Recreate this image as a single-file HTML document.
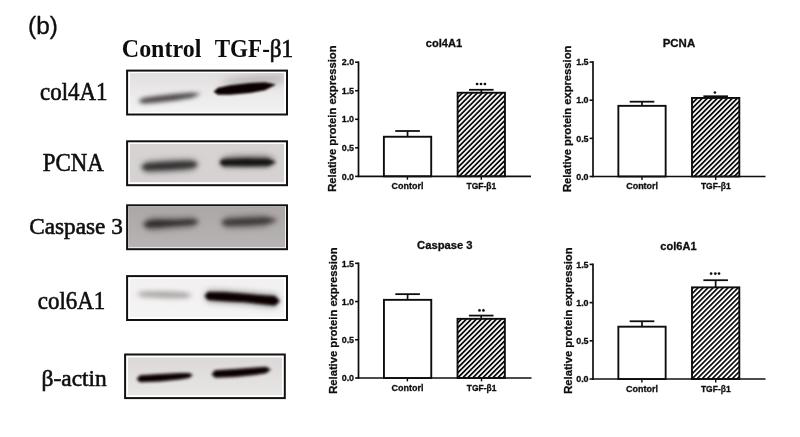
<!DOCTYPE html>
<html><head><meta charset="utf-8"><style>
html,body{margin:0;padding:0;background:#fff;width:800px;height:437px;overflow:hidden}
svg{display:block}
.ch text{stroke:#111;stroke-width:0.3px}
</style></head><body>
<svg width="800" height="437" viewBox="0 0 800 437">
<defs>
<pattern id="hatch" width="3.54" height="10" patternUnits="userSpaceOnUse" patternTransform="translate(457,92) rotate(45)"><rect x="0" y="0" width="1.75" height="10" fill="#111"/></pattern>
<filter id="b08" filterUnits="userSpaceOnUse" x="0" y="0" width="800" height="437"><feGaussianBlur stdDeviation="0.8"/></filter>
<filter id="b1" filterUnits="userSpaceOnUse" x="0" y="0" width="800" height="437"><feGaussianBlur stdDeviation="1.2"/></filter>
<filter id="b15" filterUnits="userSpaceOnUse" x="0" y="0" width="800" height="437"><feGaussianBlur stdDeviation="1.6"/></filter>
<filter id="b2" filterUnits="userSpaceOnUse" x="0" y="0" width="800" height="437"><feGaussianBlur stdDeviation="2.1"/></filter>
<filter id="b25" filterUnits="userSpaceOnUse" x="0" y="0" width="800" height="437"><feGaussianBlur stdDeviation="2.5"/></filter>
<filter id="b3" filterUnits="userSpaceOnUse" x="0" y="0" width="800" height="437"><feGaussianBlur stdDeviation="3.0"/></filter>
<filter id="b4" filterUnits="userSpaceOnUse" x="0" y="0" width="800" height="437"><feGaussianBlur stdDeviation="4.5"/></filter>
<filter id="tb" filterUnits="userSpaceOnUse" x="0" y="0" width="800" height="437"><feGaussianBlur stdDeviation="0.3"/></filter>
</defs>
<g class="ch" filter="url(#tb)">
<g><line x1="407.55" y1="131.0" x2="407.55" y2="136.8" stroke="#111" stroke-width="1.7"/><line x1="395.25" y1="131.0" x2="419.85" y2="131.0" stroke="#111" stroke-width="1.8"/><rect x="383.90" y="136.75" width="47.30" height="39.60" fill="#fff" stroke="#111" stroke-width="1.9"/><line x1="481.3" y1="89.8" x2="481.3" y2="92.8" stroke="#111" stroke-width="1.7"/><line x1="469.0" y1="89.8" x2="493.6" y2="89.8" stroke="#111" stroke-width="1.8"/><rect x="457.65" y="92.75" width="47.30" height="83.60" fill="url(#hatch)" stroke="#111" stroke-width="1.9"/><line x1="407.4" y1="176.35" x2="407.4" y2="179.75" stroke="#111" stroke-width="1.4"/><line x1="481.3" y1="176.35" x2="481.3" y2="179.75" stroke="#111" stroke-width="1.4"/><line x1="358.5" y1="61.400000000000006" x2="358.5" y2="177.15" stroke="#111" stroke-width="1.7"/><line x1="357.7" y1="176.35" x2="531" y2="176.35" stroke="#111" stroke-width="1.7"/><circle cx="477.1" cy="84" r="1.35" fill="#111"/><circle cx="481" cy="84" r="1.35" fill="#111"/><circle cx="484.9" cy="84" r="1.35" fill="#111"/></g>
<line x1="355.1" y1="176.35" x2="358.5" y2="176.35" stroke="#111" stroke-width="1.6"/>
<text transform="translate(341.69,179.55) scale(0.9769,1)" font-family="Liberation Sans" font-weight="bold" font-size="9.14" fill="#111" >0.0</text>
<line x1="355.1" y1="147.81" x2="358.5" y2="147.81" stroke="#111" stroke-width="1.6"/>
<text transform="translate(341.69,151.01) scale(0.9769,1)" font-family="Liberation Sans" font-weight="bold" font-size="9.14" fill="#111" >0.5</text>
<line x1="355.1" y1="119.28" x2="358.5" y2="119.28" stroke="#111" stroke-width="1.6"/>
<text transform="translate(341.69,122.48) scale(0.9769,1)" font-family="Liberation Sans" font-weight="bold" font-size="9.14" fill="#111" >1.0</text>
<line x1="355.1" y1="90.74" x2="358.5" y2="90.74" stroke="#111" stroke-width="1.6"/>
<text transform="translate(341.69,93.94) scale(0.9769,1)" font-family="Liberation Sans" font-weight="bold" font-size="9.14" fill="#111" >1.5</text>
<line x1="355.1" y1="62.20" x2="358.5" y2="62.20" stroke="#111" stroke-width="1.6"/>
<text transform="translate(341.78,65.40) scale(0.9695,1)" font-family="Liberation Sans" font-weight="bold" font-size="9.14" fill="#111" >2.0</text>
<text transform="translate(391.59,188.70) scale(1.0246,1)" font-family="Liberation Sans" font-weight="bold" font-size="8.77" fill="#111" >Contorl</text>
<text transform="translate(466.52,188.70) scale(0.9692,1)" font-family="Liberation Sans" font-weight="bold" font-size="8.77" fill="#111" >TGF-β1</text>
<text transform="translate(425.76,47.00) scale(1.0795,1)" font-family="Liberation Sans" font-weight="bold" font-size="10.27" fill="#111" >col4A1</text>
<text transform="translate(336.4,191.78) rotate(-90)" font-family="Liberation Sans" font-size="11.21" font-weight="bold" fill="#111">Relative protein expression</text>
<g><line x1="642" y1="101.7" x2="642" y2="105.9" stroke="#111" stroke-width="1.7"/><line x1="629.7" y1="101.7" x2="654.3" y2="101.7" stroke="#111" stroke-width="1.8"/><rect x="618.35" y="105.85" width="47.30" height="70.65" fill="#fff" stroke="#111" stroke-width="1.9"/><line x1="715.65" y1="96.25" x2="715.65" y2="98.0" stroke="#111" stroke-width="1.7"/><line x1="703.35" y1="96.25" x2="727.9499999999999" y2="96.25" stroke="#111" stroke-width="1.8"/><rect x="692.00" y="97.95" width="47.30" height="78.55" fill="url(#hatch)" stroke="#111" stroke-width="1.9"/><line x1="642" y1="176.5" x2="642" y2="179.9" stroke="#111" stroke-width="1.4"/><line x1="715.7" y1="176.5" x2="715.7" y2="179.9" stroke="#111" stroke-width="1.4"/><line x1="593" y1="61.260000000000005" x2="593" y2="177.3" stroke="#111" stroke-width="1.7"/><line x1="592.2" y1="176.5" x2="765.5" y2="176.5" stroke="#111" stroke-width="1.7"/><circle cx="714.9" cy="92.5" r="1.35" fill="#111"/></g>
<line x1="589.6" y1="176.50" x2="593" y2="176.50" stroke="#111" stroke-width="1.6"/>
<text transform="translate(576.19,179.70) scale(0.9769,1)" font-family="Liberation Sans" font-weight="bold" font-size="9.14" fill="#111" >0.0</text>
<line x1="589.6" y1="138.35" x2="593" y2="138.35" stroke="#111" stroke-width="1.6"/>
<text transform="translate(576.19,141.55) scale(0.9769,1)" font-family="Liberation Sans" font-weight="bold" font-size="9.14" fill="#111" >0.5</text>
<line x1="589.6" y1="100.21" x2="593" y2="100.21" stroke="#111" stroke-width="1.6"/>
<text transform="translate(576.19,103.41) scale(0.9769,1)" font-family="Liberation Sans" font-weight="bold" font-size="9.14" fill="#111" >1.0</text>
<line x1="589.6" y1="62.06" x2="593" y2="62.06" stroke="#111" stroke-width="1.6"/>
<text transform="translate(576.19,65.26) scale(0.9769,1)" font-family="Liberation Sans" font-weight="bold" font-size="9.14" fill="#111" >1.5</text>
<text transform="translate(626.19,188.70) scale(1.0246,1)" font-family="Liberation Sans" font-weight="bold" font-size="8.77" fill="#111" >Contorl</text>
<text transform="translate(700.92,188.70) scale(0.9692,1)" font-family="Liberation Sans" font-weight="bold" font-size="8.77" fill="#111" >TGF-β1</text>
<text transform="translate(662.70,47.00) scale(1.0289,1)" font-family="Liberation Sans" font-weight="bold" font-size="11.14" fill="#111" >PCNA</text>
<text transform="translate(571.4,191.98) rotate(-90)" font-family="Liberation Sans" font-size="11.21" font-weight="bold" fill="#111">Relative protein expression</text>
<g><line x1="407.6" y1="294.15" x2="407.6" y2="299.9" stroke="#111" stroke-width="1.7"/><line x1="395.3" y1="294.15" x2="419.90000000000003" y2="294.15" stroke="#111" stroke-width="1.8"/><rect x="383.95" y="299.85" width="47.30" height="78.15" fill="#fff" stroke="#111" stroke-width="1.9"/><line x1="481.2" y1="315.6" x2="481.2" y2="318.9" stroke="#111" stroke-width="1.7"/><line x1="468.9" y1="315.6" x2="493.5" y2="315.6" stroke="#111" stroke-width="1.8"/><rect x="457.55" y="318.85" width="47.30" height="59.15" fill="url(#hatch)" stroke="#111" stroke-width="1.9"/><line x1="407.4" y1="378.0" x2="407.4" y2="381.4" stroke="#111" stroke-width="1.4"/><line x1="481.5" y1="378.0" x2="481.5" y2="381.4" stroke="#111" stroke-width="1.4"/><line x1="358.5" y1="262.5" x2="358.5" y2="378.8" stroke="#111" stroke-width="1.7"/><line x1="357.7" y1="378.0" x2="531.5" y2="378.0" stroke="#111" stroke-width="1.7"/><circle cx="479.5" cy="310.4" r="1.35" fill="#111"/><circle cx="483.4" cy="310.4" r="1.35" fill="#111"/></g>
<line x1="355.1" y1="378.00" x2="358.5" y2="378.00" stroke="#111" stroke-width="1.6"/>
<text transform="translate(341.69,381.20) scale(0.9769,1)" font-family="Liberation Sans" font-weight="bold" font-size="9.14" fill="#111" >0.0</text>
<line x1="355.1" y1="339.77" x2="358.5" y2="339.77" stroke="#111" stroke-width="1.6"/>
<text transform="translate(341.69,342.97) scale(0.9769,1)" font-family="Liberation Sans" font-weight="bold" font-size="9.14" fill="#111" >0.5</text>
<line x1="355.1" y1="301.53" x2="358.5" y2="301.53" stroke="#111" stroke-width="1.6"/>
<text transform="translate(341.69,304.73) scale(0.9769,1)" font-family="Liberation Sans" font-weight="bold" font-size="9.14" fill="#111" >1.0</text>
<line x1="355.1" y1="263.30" x2="358.5" y2="263.30" stroke="#111" stroke-width="1.6"/>
<text transform="translate(341.69,266.50) scale(0.9769,1)" font-family="Liberation Sans" font-weight="bold" font-size="9.14" fill="#111" >1.5</text>
<text transform="translate(391.59,391.00) scale(1.0246,1)" font-family="Liberation Sans" font-weight="bold" font-size="8.77" fill="#111" >Contorl</text>
<text transform="translate(466.72,391.00) scale(0.9692,1)" font-family="Liberation Sans" font-weight="bold" font-size="8.77" fill="#111" >TGF-β1</text>
<text transform="translate(417.05,248.50) scale(1.0493,1)" font-family="Liberation Sans" font-weight="bold" font-size="10.71" fill="#111" >Caspase 3</text>
<text transform="translate(336.7,393.78) rotate(-90)" font-family="Liberation Sans" font-size="11.21" font-weight="bold" fill="#111">Relative protein expression</text>
<g><line x1="642" y1="321.25" x2="642" y2="326.75" stroke="#111" stroke-width="1.7"/><line x1="629.7" y1="321.25" x2="654.3" y2="321.25" stroke="#111" stroke-width="1.8"/><rect x="618.35" y="326.70" width="47.30" height="52.30" fill="#fff" stroke="#111" stroke-width="1.9"/><line x1="715.65" y1="280.2" x2="715.65" y2="287.4" stroke="#111" stroke-width="1.7"/><line x1="703.35" y1="280.2" x2="727.9499999999999" y2="280.2" stroke="#111" stroke-width="1.8"/><rect x="692.00" y="287.35" width="47.30" height="91.65" fill="url(#hatch)" stroke="#111" stroke-width="1.9"/><line x1="641.9" y1="379.0" x2="641.9" y2="382.4" stroke="#111" stroke-width="1.4"/><line x1="715.7" y1="379.0" x2="715.7" y2="382.4" stroke="#111" stroke-width="1.4"/><line x1="593" y1="263.59999999999997" x2="593" y2="379.8" stroke="#111" stroke-width="1.7"/><line x1="592.2" y1="379.0" x2="765.5" y2="379.0" stroke="#111" stroke-width="1.7"/><circle cx="711.1" cy="273.6" r="1.35" fill="#111"/><circle cx="715.3" cy="273.6" r="1.35" fill="#111"/><circle cx="719" cy="273.6" r="1.35" fill="#111"/></g>
<line x1="589.6" y1="379.00" x2="593" y2="379.00" stroke="#111" stroke-width="1.6"/>
<text transform="translate(576.19,382.20) scale(0.9769,1)" font-family="Liberation Sans" font-weight="bold" font-size="9.14" fill="#111" >0.0</text>
<line x1="589.6" y1="340.80" x2="593" y2="340.80" stroke="#111" stroke-width="1.6"/>
<text transform="translate(576.19,344.00) scale(0.9769,1)" font-family="Liberation Sans" font-weight="bold" font-size="9.14" fill="#111" >0.5</text>
<line x1="589.6" y1="302.60" x2="593" y2="302.60" stroke="#111" stroke-width="1.6"/>
<text transform="translate(576.19,305.80) scale(0.9769,1)" font-family="Liberation Sans" font-weight="bold" font-size="9.14" fill="#111" >1.0</text>
<line x1="589.6" y1="264.40" x2="593" y2="264.40" stroke="#111" stroke-width="1.6"/>
<text transform="translate(576.19,267.60) scale(0.9769,1)" font-family="Liberation Sans" font-weight="bold" font-size="9.14" fill="#111" >1.5</text>
<text transform="translate(626.09,391.60) scale(1.0246,1)" font-family="Liberation Sans" font-weight="bold" font-size="8.77" fill="#111" >Contorl</text>
<text transform="translate(700.92,391.60) scale(0.9692,1)" font-family="Liberation Sans" font-weight="bold" font-size="8.77" fill="#111" >TGF-β1</text>
<text transform="translate(660.36,249.80) scale(1.0593,1)" font-family="Liberation Sans" font-weight="bold" font-size="10.41" fill="#111" >col6A1</text>
<text transform="translate(571.5,393.78) rotate(-90)" font-family="Liberation Sans" font-size="11.21" font-weight="bold" fill="#111">Relative protein expression</text>
</g>
<linearGradient id="g0" x1="0" y1="0" x2="0" y2="1"><stop offset="0" stop-color="#e2dfdf"/><stop offset="1" stop-color="#f3f2f2"/></linearGradient>
<clipPath id="c0"><rect x="129.79999999999998" y="73.1" width="154.50000000000003" height="38.9"/></clipPath>
<rect x="127.1" y="70.6" width="159.9" height="43.9" fill="#fff" stroke="#111" stroke-width="2"/>
<g clip-path="url(#c0)">
<rect x="129.79999999999998" y="73.1" width="154.50000000000003" height="38.9" fill="url(#g0)"/>
<path d="M218.0,84.0 L232.0,79.0 L258.0,76.0 L280.0,75.0 L290.0,78.0 L290.0,78.0 L280.0,82.0 L258.0,85.0 L232.0,86.0 L218.0,84.0 Z" fill="#b3aeae" filter="url(#b4)"/>
<path d="M138.0,101.3 L143.0,98.0 L155.0,96.3 L175.0,94.0 L192.0,92.7 L201.0,93.8 L201.0,93.8 L192.0,97.7 L175.0,100.5 L155.0,102.8 L143.0,103.5 L138.0,101.3 Z" fill="#4a4444" filter="url(#b2)"/>
<path d="M213.5,91.8 L218.0,87.7 L230.0,85.2 L250.0,83.0 L265.0,82.2 L276.0,84.6 L276.0,84.6 L265.0,90.2 L250.0,93.0 L230.0,94.8 L218.0,94.7 L213.5,91.8 Z" fill="#080606" filter="url(#b1)"/>
</g>
<linearGradient id="g1" x1="0" y1="0" x2="0" y2="1"><stop offset="0" stop-color="#d7d3d3"/><stop offset="1" stop-color="#d6d2d2"/></linearGradient>
<clipPath id="c1"><rect x="129.79999999999998" y="144.0" width="154.50000000000003" height="38.49999999999999"/></clipPath>
<rect x="127.1" y="141.3" width="159.9" height="43.9" fill="#fff" stroke="#111" stroke-width="2"/>
<g clip-path="url(#c1)">
<rect x="129.79999999999998" y="144.0" width="154.50000000000003" height="38.49999999999999" fill="url(#g1)"/>
<path d="M222.0,158.0 L235.0,154.5 L265.0,154.5 L278.0,158.0 L278.0,158.0 L265.0,160.5 L235.0,160.5 L222.0,158.0 Z" fill="#aaa5a5" filter="url(#b3)"/>
<path d="M141.0,167.2 L146.0,161.2 L165.0,159.8 L185.0,159.0 L194.0,159.3 L198.0,164.3 L198.0,164.3 L194.0,169.8 L185.0,171.0 L165.0,172.2 L146.0,172.8 L141.0,167.2 Z" fill="#8a8585" filter="url(#b3)"/>
<path d="M141.0,167.2 L146.0,163.8 L165.0,162.2 L185.0,161.5 L194.0,161.8 L198.0,164.3 L198.0,164.3 L194.0,167.3 L185.0,168.5 L165.0,169.8 L146.0,170.2 L141.0,167.2 Z" fill="#333030" filter="url(#b2)"/>
<path d="M219.5,162.6 L223.0,157.7 L245.0,157.1 L268.0,157.3 L276.0,162.2 L276.0,162.2 L268.0,167.3 L245.0,167.6 L223.0,167.2 L219.5,162.6 Z" fill="#555050" filter="url(#b25)"/>
<path d="M219.5,162.6 L223.0,159.7 L245.0,159.1 L268.0,159.3 L276.0,162.2 L276.0,162.2 L268.0,165.3 L245.0,165.6 L223.0,165.2 L219.5,162.6 Z" fill="#181414" filter="url(#b15)"/>
</g>
<linearGradient id="g2" x1="0" y1="0" x2="0" y2="1"><stop offset="0" stop-color="#aca7a7"/><stop offset="1" stop-color="#b9b4b4"/></linearGradient>
<clipPath id="c2"><rect x="128.1" y="206.3" width="157.3" height="41.3"/></clipPath>
<rect x="127.1" y="205.3" width="159.9" height="43.9" fill="#fff" stroke="#111" stroke-width="2"/>
<g clip-path="url(#c2)">
<rect x="128.1" y="206.3" width="157.3" height="41.3" fill="url(#g2)"/>
<path d="M143.0,224.5 L148.0,218.2 L156.0,217.3 L176.0,217.5 L193.0,216.8 L199.0,221.5 L199.0,221.5 L193.0,227.2 L176.0,228.5 L156.0,230.3 L148.0,230.2 L143.0,224.5 Z" fill="#787373" filter="url(#b3)"/>
<path d="M143.0,224.5 L148.0,221.2 L156.0,220.3 L176.0,220.5 L193.0,219.8 L199.0,221.5 L199.0,221.5 L193.0,224.2 L176.0,225.5 L156.0,227.3 L148.0,227.2 L143.0,224.5 Z" fill="#2e2929" filter="url(#b2)"/>
<path d="M221.0,222.8 L226.0,216.7 L245.0,215.6 L265.0,214.8 L278.0,220.0 L278.0,220.0 L265.0,226.8 L245.0,228.1 L226.0,228.2 L221.0,222.8 Z" fill="#7a7575" filter="url(#b3)"/>
<path d="M221.0,222.8 L226.0,219.7 L245.0,218.6 L265.0,217.8 L278.0,220.0 L278.0,220.0 L265.0,223.8 L245.0,225.1 L226.0,225.2 L221.0,222.8 Z" fill="#3e3939" filter="url(#b2)"/>
</g>
<linearGradient id="g3" x1="0" y1="0" x2="0" y2="1"><stop offset="0" stop-color="#f2f0f0"/><stop offset="1" stop-color="#f5f4f4"/></linearGradient>
<clipPath id="c3"><rect x="129.79999999999998" y="278.8" width="154.50000000000003" height="38.49999999999999"/></clipPath>
<rect x="127.1" y="276.1" width="159.9" height="43.9" fill="#fff" stroke="#111" stroke-width="2"/>
<g clip-path="url(#c3)">
<rect x="129.79999999999998" y="278.8" width="154.50000000000003" height="38.49999999999999" fill="url(#g3)"/>
<path d="M136.0,294.3 L143.0,291.6 L165.0,291.3 L185.0,292.2 L193.0,295.4 L193.0,295.4 L185.0,298.2 L165.0,298.3 L143.0,297.1 L136.0,294.3 Z" fill="#aaa5a5" filter="url(#b25)"/>
<path d="M204.5,296.0 L208.0,290.0 L225.0,290.3 L245.0,291.8 L265.0,293.5 L275.0,294.1 L280.0,301.0 L280.0,301.0 L275.0,307.6 L265.0,306.5 L245.0,304.2 L225.0,303.3 L208.0,302.0 L204.5,296.0 Z" fill="#9a9595" filter="url(#b3)"/>
<path d="M204.5,296.0 L208.0,292.0 L225.0,292.3 L245.0,293.8 L265.0,295.5 L275.0,296.1 L280.0,301.0 L280.0,301.0 L275.0,305.6 L265.0,304.5 L245.0,302.2 L225.0,301.3 L208.0,300.0 L204.5,296.0 Z" fill="#080606" filter="url(#b15)"/>
</g>
<linearGradient id="g4" x1="0" y1="0" x2="0" y2="1"><stop offset="0" stop-color="#dcd8d8"/><stop offset="1" stop-color="#e8e5e5"/></linearGradient>
<clipPath id="c4"><rect x="127.8" y="357.3" width="154.3" height="38.2"/></clipPath>
<rect x="125.1" y="354.5" width="159.7" height="43.6" fill="#fff" stroke="#111" stroke-width="2"/>
<g clip-path="url(#c4)">
<rect x="127.8" y="357.3" width="154.3" height="38.2" fill="url(#g4)"/>
<path d="M136.5,379.0 L140.0,375.3 L160.0,373.9 L180.0,372.9 L189.0,372.9 L193.0,375.0 L193.0,375.0 L189.0,377.9 L180.0,379.4 L160.0,381.4 L140.0,382.3 L136.5,379.0 Z" fill="#080606" filter="url(#b15)"/>
<path d="M211.5,374.2 L215.0,370.2 L235.0,369.0 L255.0,367.4 L266.0,366.8 L271.0,369.5 L271.0,369.5 L266.0,373.2 L255.0,374.9 L235.0,377.0 L215.0,377.8 L211.5,374.2 Z" fill="#080606" filter="url(#b15)"/>
</g>
<g filter="url(#tb)">
<text transform="translate(28.04,33.90) scale(0.9826,1)" font-family="Liberation Sans" font-weight="normal" font-size="24.79" fill="#111" stroke="#111" stroke-width="0.35">(b)</text>
<text transform="translate(121.80,57.0) scale(0.9741,1)" font-family="Liberation Serif" font-weight="bold" font-size="24.64" fill="#111">Control</text>
<text transform="translate(214.69,56.9) scale(0.9321,1)" font-family="Liberation Serif" font-size="24.77" fill="#111"><tspan font-weight="bold">TGF-</tspan><tspan stroke="#111" stroke-width="0.7">β1</tspan></text>
<text transform="translate(40.08,99.50) scale(0.9290,1)" font-family="Liberation Serif" font-weight="normal" font-size="24.64" fill="#111" stroke="#111" stroke-width="0.6">col4A1</text>
<text transform="translate(42.81,170.60) scale(0.9333,1)" font-family="Liberation Serif" font-weight="normal" font-size="24.55" fill="#111" stroke="#111" stroke-width="0.6">PCNA</text>
<text transform="translate(29.27,234.20) scale(0.9746,1)" font-family="Liberation Serif" font-weight="normal" font-size="23.85" fill="#111" stroke="#111" stroke-width="0.6">Caspase 3</text>
<text transform="translate(37.83,309.40) scale(0.9345,1)" font-family="Liberation Serif" font-weight="normal" font-size="24.49" fill="#111" stroke="#111" stroke-width="0.6">col6A1</text>
<text transform="translate(41.59,386.25) scale(1.0094,1)" font-family="Liberation Serif" font-weight="normal" font-size="23.21" fill="#111" stroke="#111" stroke-width="0.6">β-actin</text>
</g>
</svg>
</body></html>
